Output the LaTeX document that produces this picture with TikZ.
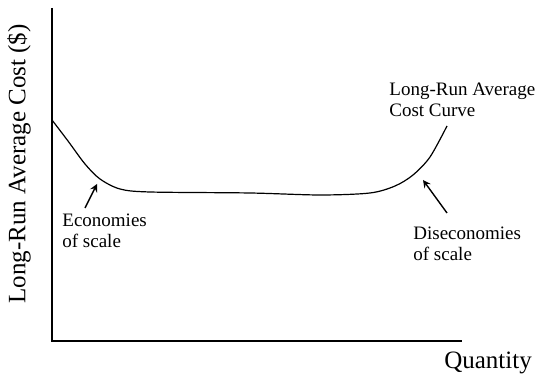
\documentclass[tikz,border=0pt]{standalone}
\usepackage{fontspec}
\setmainfont{Liberation Serif}
\usetikzlibrary{positioning}

\begin{document}
\begin{tikzpicture}[x = 0.5pt, y = 0.5pt,
                    axislabel/.style = {font = \fontsize{12.5}{14}\selectfont},
                    notelabel/.style = {font = \fontsize{9.5}{10.8}\selectfont, align = left, anchor = west, inner sep = 0pt}]
    \useasboundingbox (0, 0) rectangle (542, 379);
    \draw[black, line width = 1pt] (52, 371) coordinate (ytop)--(52, 38) coordinate (origin)--(462, 38) coordinate (xend);
    \node[axislabel] (quantity) at (488, 16) {Quantity};
    \node[axislabel, rotate = 90] (costlabel) at (19, 215) {Long-Run Average Cost (\$)};
    \draw[black, line width = 0.6pt] plot[smooth, tension = 0.5] coordinates {(52, 259) (68, 238) (85, 215) (100, 200) (120, 190) (150, 187) (250, 186) (320, 184) (370, 186) (395, 193) (413, 204) (430, 222) (447, 253)};
    \coordinate (econtip) at (97, 195);
    \coordinate (disectip) at (423, 199);
    \node[notelabel] (economies) at (62, 148) {Economies\\of scale};
    \node[notelabel] (lrac) at (389, 279) {Long-Run Average\\Cost Curve};
    \node[notelabel] (diseconomies) at (413, 135) {Diseconomies\\of scale};
    \draw[black, line width = 0.7pt, -stealth] (85, 171)--(econtip);
    \draw[black, line width = 0.7pt, -stealth] (447, 166)--(disectip);
\end{tikzpicture}
\end{document}
